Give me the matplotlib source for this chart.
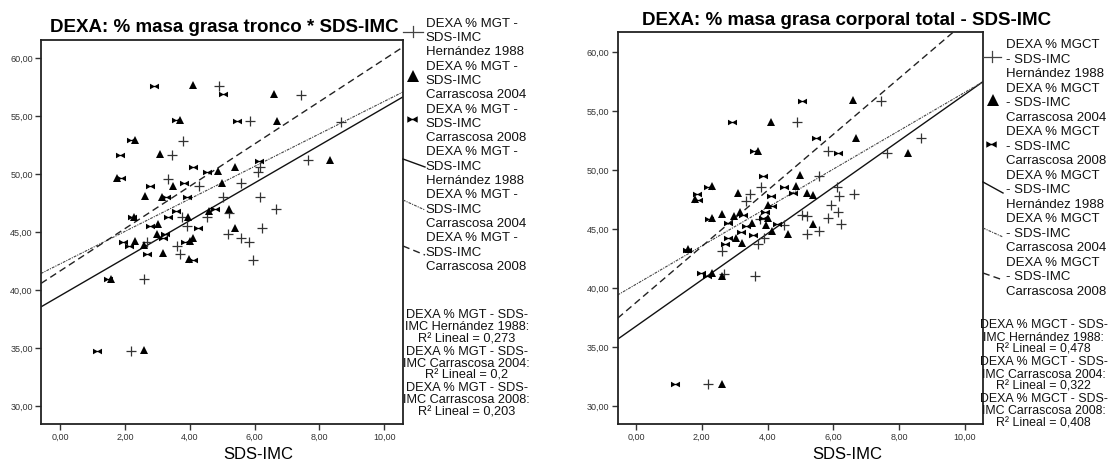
import numpy as np
import matplotlib
matplotlib.use("Agg")
import matplotlib.pyplot as plt
from matplotlib.path import Path

plt.rcParams['font.family'] = ['Liberation Sans', 'DejaVu Sans']

# ---------------- DATA ----------------
# Left panel: DEXA % masa grasa tronco (y) vs SDS-IMC (x)
tr_h88_x = [4.90, 7.44, 5.86, 8.67, 3.80, 3.46, 6.17, 6.10, 7.66, 3.32, 4.29, 5.58, 5.04, 6.17, 6.65,
            3.77, 4.52, 3.91, 6.22, 5.19, 2.67, 5.58, 5.84, 3.62, 3.70, 5.94, 2.59, 2.18, 5.21]
tr_h88_y = [57.64, 56.84, 54.62, 54.53, 52.90, 51.66, 50.66, 50.17, 51.23, 49.59, 49.02, 49.21, 48.07, 48.02, 46.98,
            46.29, 46.29, 45.57, 45.34, 44.83, 44.19, 44.48, 44.19, 43.82, 43.13, 42.61, 40.95, 34.79, 46.64]
tr_c04_x = [4.09, 6.60, 3.70, 6.70, 2.31, 3.08, 5.40, 4.86, 8.33, 1.77, 3.49, 5.00, 2.62, 3.15, 4.60,
            5.21, 2.29, 3.94, 3.03, 5.40, 2.98, 2.31, 4.01, 4.11, 2.60, 3.19, 3.99, 1.57, 2.60]
tr_c04_y = [57.70, 56.90, 54.68, 54.62, 52.93, 51.72, 50.63, 50.26, 51.23, 49.66, 49.02, 49.25, 48.16, 48.02, 46.86,
            47.01, 46.34, 46.34, 45.69, 45.34, 44.85, 44.28, 44.28, 44.48, 43.91, 43.19, 42.70, 40.97, 34.85]
tr_c08_x = [2.91, 5.04, 3.58, 5.47, 2.19, 1.85, 4.09, 4.52, 6.15, 1.88, 2.78, 3.83, 3.27, 3.93, 3.57,
            4.78, 2.22, 3.32, 2.78, 4.27, 3.24, 1.95, 3.19, 3.85, 2.13, 2.69, 4.11, 1.48, 1.15]
tr_c08_y = [57.64, 56.90, 54.68, 54.59, 52.96, 51.66, 50.59, 50.17, 51.17, 49.64, 49.02, 49.22, 48.07, 48.02, 46.84,
            47.01, 46.32, 46.29, 45.57, 45.34, 44.83, 44.19, 44.48, 44.19, 43.82, 43.13, 42.61, 40.97, 34.79]
# fitted lines (intercept, slope): Hernández 1988, Carrascosa 2004, Carrascosa 2008
tr_fit_icpt = [39.52, 42.27, 41.66]
tr_fit_slope = [1.622, 1.402, 1.826]
tr_r2 = ["0,273", "0,2", "0,203"]

# Right panel: DEXA % masa grasa corporal total (y) vs SDS-IMC (x)
ct_h88_x = [7.44, 4.90, 8.65, 5.85, 7.64, 5.57, 3.80, 6.10, 3.47, 6.17, 6.63, 3.34, 5.93, 6.15,
            5.04, 5.20, 5.83, 3.77, 6.23, 4.51, 5.56, 5.19, 3.90, 3.72, 2.61, 2.68, 3.62, 2.20]
ct_h88_y = [55.89, 54.11, 52.76, 51.63, 51.43, 49.51, 48.60, 48.60, 47.98, 47.81, 47.98, 47.39, 47.05, 46.45,
            46.20, 46.14, 45.95, 45.86, 45.41, 45.35, 44.84, 44.55, 44.22, 43.72, 43.17, 41.20, 41.03, 31.87]
ct_c04_x = [6.59, 4.10, 6.69, 3.71, 8.28, 4.99, 2.30, 4.86, 3.11, 5.19, 5.39, 1.79, 4.00, 2.30, 2.62,
            2.99, 3.16, 4.00, 5.39, 3.52, 3.94, 4.13, 4.61, 3.03, 3.21, 1.59, 2.32, 2.61, 2.61]
ct_c04_y = [55.95, 54.11, 52.76, 51.63, 51.43, 49.59, 48.66, 48.66, 48.04, 48.09, 47.90, 47.53, 47.07, 45.92, 46.26,
            46.14, 46.48, 45.97, 45.44, 45.55, 45.35, 44.84, 44.56, 44.22, 43.80, 43.29, 41.26, 41.03, 31.87]
ct_c08_x = [5.05, 2.93, 5.47, 3.60, 6.15, 3.87, 2.20, 4.51, 1.86, 4.76, 4.10, 1.89, 4.13, 2.23,
            3.24, 3.92, 3.87, 2.81, 3.33, 4.28, 3.18, 3.57, 2.79, 2.71, 1.54, 1.98, 2.15, 1.19]
ct_c08_y = [55.89, 54.11, 52.73, 51.63, 51.43, 49.51, 48.60, 48.60, 47.98, 48.04, 47.81, 47.47, 46.99, 45.84,
            46.20, 46.43, 45.92, 45.50, 45.29, 45.41, 44.78, 44.50, 44.22, 43.72, 43.23, 41.26, 41.03, 31.87]
ct_fit_icpt = [36.76, 40.32, 38.77]
ct_fit_slope = [1.967, 1.629, 2.379]
ct_r2 = ["0,478", "0,322", "0,408"]

x_ticks = [0, 2, 4, 6, 8, 10]
x_ticklabels = ["0,00", "2,00", "4,00", "6,00", "8,00", "10,00"]
y_ticks = [30, 35, 40, 45, 50, 55, 60]
y_ticklabels = ["30,00", "35,00", "40,00", "45,00", "50,00", "55,00", "60,00"]
refs = ["Hernández 1988", "Carrascosa 2004", "Carrascosa 2008"]

# ---------------- STYLE ----------------
W, H = 1110, 461
fig = plt.figure(figsize=(W / 100, H / 100), dpi=100)
fig.patch.set_facecolor("white")

# bow-tie marker (single polygon)
BOW = Path([(-1, 0.62), (-0.12, 0.14), (0.12, 0.14), (1, 0.62), (1, -0.62),
            (0.12, -0.14), (-0.12, -0.14), (-1, -0.62), (-1, 0.62)],
           [Path.MOVETO] + [Path.LINETO] * 7 + [Path.CLOSEPOLY])

line_styles = [dict(ls="-", lw=1.0, color="#111111"),
               dict(ls=(0, (2.5, 1.0, 1.0, 1.0)), lw=0.8, color="#444444"),
               dict(ls=(0, (5, 3)), lw=1.0, color="#222222")]


def px_axes(l, t, r, b):
    return [l / W, 1 - b / H, (r - l) / W, (b - t) / H]


def panel(rect, xlim, ylim, hx, hy, c4x, c4y, c8x, c8y, icpt, slope):
    ax = fig.add_axes(rect)
    ax.plot(hx, hy, ls="none", marker="+", ms=6.5, mew=0.9, color="#333333", zorder=3)
    ax.plot(c4x, c4y, ls="none", marker="^", ms=5.5, mew=0, color="black", zorder=3)
    ax.plot(c8x, c8y, ls="none", marker=BOW, ms=6.5, mew=0, color="black", zorder=3)
    xs = np.array(xlim)
    for a, b, st in zip(icpt, slope, line_styles):
        ax.plot(xs, a + b * xs, **st, zorder=2)
    ax.set_xlim(xlim)
    ax.set_ylim(ylim)
    ax.set_xticks(x_ticks)
    ax.set_xticklabels(x_ticklabels)
    ax.set_yticks(y_ticks)
    ax.set_yticklabels(y_ticklabels)
    ax.tick_params(direction="out", length=4, width=1, color="#333333",
                   labelsize=6.5, labelcolor="#333333", pad=2)
    for s in ax.spines.values():
        s.set_linewidth(1.3)
        s.set_color("#222222")
    return ax


panel(px_axes(41, 40, 403, 424), (-0.586, 10.577), (28.47, 61.58),
      tr_h88_x, tr_h88_y, tr_c04_x, tr_c04_y, tr_c08_x, tr_c08_y, tr_fit_icpt, tr_fit_slope)
panel(px_axes(617.7, 32, 983, 424), (-0.556, 10.547), (28.47, 61.72),
      ct_h88_x, ct_h88_y, ct_c04_x, ct_c04_y, ct_c08_x, ct_c08_y, ct_fit_icpt, ct_fit_slope)

# overlay in pixel coordinates for titles / legends
ov = fig.add_axes([0, 0, 1, 1])
ov.set_xlim(0, W)
ov.set_ylim(H, 0)
ov.axis("off")

ov.text(224.7, 32.3, "DEXA: % masa grasa tronco * SDS-IMC", ha="center", va="baseline",
        fontsize=13.5, fontweight="bold")
ov.text(847, 25, "DEXA: % masa grasa corporal total - SDS-IMC", ha="center", va="baseline",
        fontsize=13.5, fontweight="bold")
ov.text(258, 459.3, "SDS-IMC", ha="center", va="baseline", fontsize=12)
ov.text(847.3, 459.3, "SDS-IMC", ha="center", va="baseline", fontsize=12)


def legend(edge, tx, base0, step, first, second, mk):
    lines = []
    for r in refs * 2:
        lines += [first, second, r]
    for k, s in enumerate(lines):
        ov.text(tx, base0 + step * k, s, ha="left", va="baseline", fontsize=9.5, color="#111111")
    (px, py), (tx2, ty2), (bx, by) = mk["plus"], mk["tri"], mk["bow"]
    ov.plot([edge, px + (px - edge)], [py, py], color="#444444", lw=0.9)
    ov.plot([px, px], [py - 5.5, py + 5.5], color="#444444", lw=0.9)
    ov.plot([tx2], [ty2], marker="^", ms=8, mew=0, color="black")
    ov.plot([bx], [by], marker=BOW, ms=7.5, mew=0, color="black")
    for (y0, y1), st in zip(mk["lines"], line_styles):
        ov.plot([edge, mk["lx1"]], [y0, y1], **st)


legend(403, 425.7, 26.7, 14.31, "DEXA % MGT -", "SDS-IMC",
       dict(plus=(413, 32), tri=(413, 76), bow=(412, 119), lx1=425,
            lines=[(159, 167), (200, 210), (246, 255)]))
legend(983, 1005.5, 48.3, 14.51, "DEXA % MGCT", "- SDS-IMC",
       dict(plus=(992, 57), tri=(993, 100), bow=(991, 144), lx1=1003,
            lines=[(182, 193), (228, 237), (273, 280)]))


def r2_block(cx, base0, step, head, vals, fs):
    lines = []
    for r, v in zip(refs, vals):
        lines += [head, "IMC " + r + ":", "R² Lineal = " + v]
    for k, s in enumerate(lines):
        ov.text(cx, base0 + step * k, s, ha="center", va="baseline", fontsize=fs, color="#111111")


r2_block(466.7, 318.3, 12.1, "DEXA % MGT - SDS-", tr_r2, 9.2)
r2_block(1043.5, 328.3, 12.3, "DEXA % MGCT - SDS-", ct_r2, 8.9)

fig.savefig("out.png", dpi=100, facecolor="white")
